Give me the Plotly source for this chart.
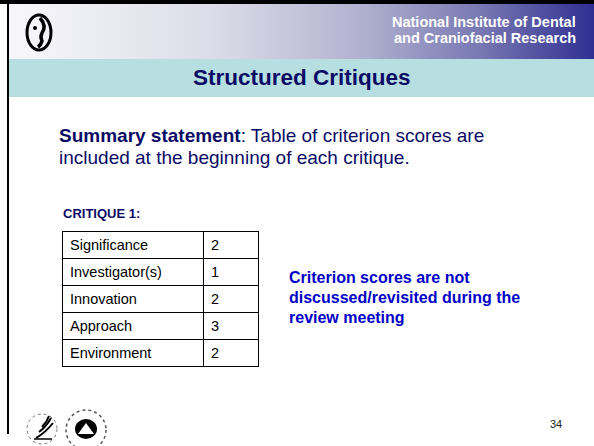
import plotly.graph_objects as go

# ---- content ----
criteria = ["Significance", "Investigator(s)", "Innovation", "Approach", "Environment"]
scores = ["2", "1", "2", "3", "2"]
title_text = "Structured Critiques"
org_lines = ["National Institute of Dental", "and Craniofacial Research"]
summary_lines = ["<b>Summary statement</b>: Table of criterion scores are",
                 "included at the beginning of each critique."]
table_label = "CRITIQUE 1:"
note_lines = ["Criterion scores are not", "discussed/revisited during the", "review meeting"]
page_number = "34"

W, H = 594, 446
FONT = "Liberation Sans, Arial, sans-serif"
NAVY = "#0b0b66"
BLUE = "#0000c8"

fig = go.Figure()

# header gradient band
fig.add_trace(go.Scatter(
    x=[9, W, W, 9, 9], y=[4, 4, 59, 59, 4], mode="none", fill="toself",
    fillgradient=dict(type="horizontal",
                      colorscale=[[0, "#f7f7fb"], [0.35, "#dcdce8"], [0.6, "#b2b2d0"],
                                  [0.8, "#7a7ab4"], [1, "#2f2f92"]]),
    hoverinfo="skip", showlegend=False))

# criterion table
fig.add_trace(go.Table(
    domain=dict(x=[62 / W, 258 / W], y=[1 - 370 / H, 1 - 231 / H]),
    columnwidth=[141, 55],
    header=dict(values=[criteria[0], scores[0]], fill_color="white",
                line=dict(color="black", width=1), align="left", height=27,
                font=dict(family=FONT, size=14.5, color="black")),
    cells=dict(values=[criteria[1:], scores[1:]], fill_color="white",
               line=dict(color="black", width=1), align="left", height=27,
               font=dict(family=FONT, size=14.5, color="black")),
))

shapes = [
    # top black bar and left border
    dict(type="rect", x0=0, x1=W, y0=0, y1=4, fillcolor="black", line_width=0),
    dict(type="line", x0=8, x1=8, y0=0, y1=434, line=dict(color="black", width=2)),
    # teal title band
    dict(type="rect", x0=9, x1=W, y0=59, y1=97, fillcolor="#b7dfe1", line_width=0),
    # top-left logo
    dict(type="circle", x0=27, x1=51, y0=15, y1=50, line=dict(color="black", width=3)),
    dict(type="circle", x0=33, x1=37, y0=26, y1=30, fillcolor="black", line_width=0),
    dict(type="path", path="M 40 18 Q 47 26 42 33 Q 40 37 42 41 Q 41 45 38 47",
         line=dict(color="black", width=3.5)),
    # HHS logo
    dict(type="circle", x0=27, x1=57, y0=414, y1=444, line=dict(color="#777", width=1, dash="dot")),
    dict(type="path", path="M 36 438 Q 45 433 53 423", line=dict(color="black", width=2)),
    dict(type="path", path="M 39 432 Q 46 427 51 418", line=dict(color="black", width=2)),
    dict(type="path", path="M 42 427 Q 47 422 49 416", line=dict(color="black", width=2)),
    dict(type="path", path="M 34 439 L 52 439", line=dict(color="black", width=1.5)),
    # NIH logo
    dict(type="circle", x0=66, x1=106, y0=410, y1=450, line=dict(color="#555", width=1.5, dash="dot")),
    dict(type="circle", x0=75, x1=97, y0=419, y1=439, fillcolor="black", line_width=0),
    dict(type="path", path="M 78 434 L 86 423 L 94 434 Z", fillcolor="white", line_width=0),
]

ann = []
# organisation name
for i, t in enumerate(org_lines):
    ann.append(dict(x=578, y=22 + i * 16, text=f"<b>{t}</b>", xanchor="right", yanchor="middle",
                    showarrow=False, font=dict(family=FONT, size=14.5, color="white")))
# title
ann.append(dict(x=302, y=77, text=f"<b>{title_text}</b>", xanchor="center", yanchor="middle",
                showarrow=False, font=dict(family=FONT, size=22.5, color=NAVY)))
# summary
for i, t in enumerate(summary_lines):
    ann.append(dict(x=57, y=135 + i * 22, text=t, xanchor="left", yanchor="middle",
                    showarrow=False, font=dict(family=FONT, size=19, color=NAVY)))
# table label
ann.append(dict(x=61, y=213, text=f"<b>{table_label}</b>", xanchor="left", yanchor="middle",
                showarrow=False, font=dict(family=FONT, size=13, color=NAVY)))
# note
for i, t in enumerate(note_lines):
    ann.append(dict(x=287, y=277 + i * 20, text=f"<b>{t}</b>", xanchor="left", yanchor="middle",
                    showarrow=False, font=dict(family=FONT, size=16, color=BLUE)))
# page number
ann.append(dict(x=556, y=424, text=page_number, xanchor="center", yanchor="middle",
                showarrow=False, font=dict(family=FONT, size=11, color="#222")))

fig.update_layout(
    width=W, height=H, margin=dict(l=0, r=0, t=0, b=0),
    paper_bgcolor="white", plot_bgcolor="white",
    xaxis=dict(range=[0, W], visible=False, fixedrange=True),
    yaxis=dict(range=[H, 0], visible=False, fixedrange=True),
    shapes=shapes, annotations=ann, showlegend=False,
)
fig.write_html("out.html", config={"displayModeBar": False},
               post_script="document.body.style.margin='0';document.body.style.padding='0';")
